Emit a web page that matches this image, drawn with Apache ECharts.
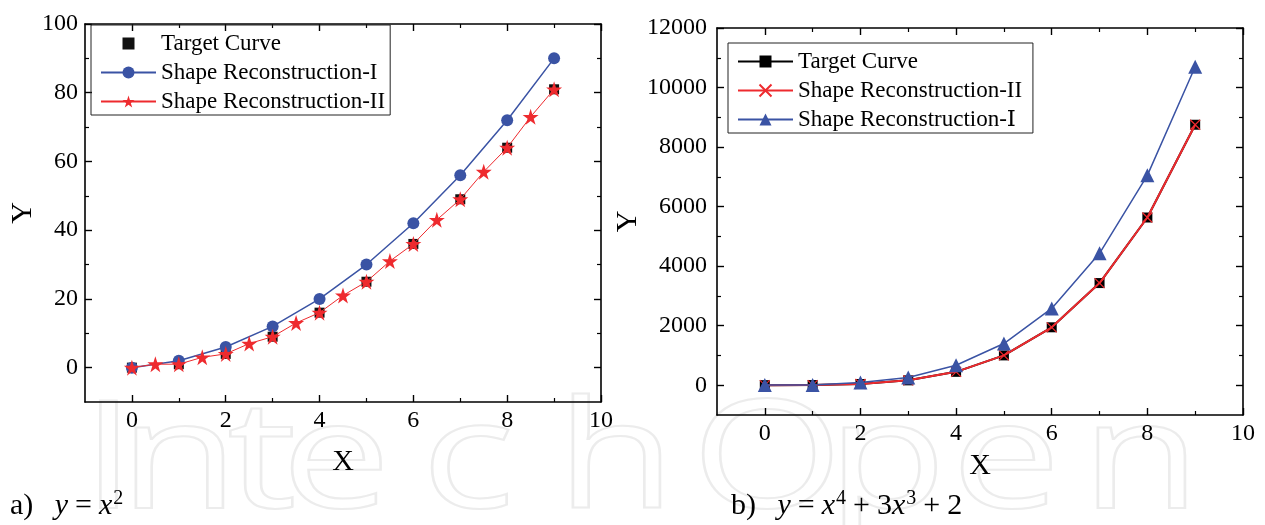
<!DOCTYPE html>
<html>
<head>
<meta charset="utf-8">
<script src="https://cdn.jsdelivr.net/npm/echarts@6/dist/echarts.min.js"></script>
<style>
  html, body { margin: 0; padding: 0; background: #fff; }
  #chart { width: 1265px; height: 525px; }
</style>
</head>
<body>
<div id="chart"></div>
<script>
// ---- panel a) y = x^2 ----
const xA = [0, 1, 2, 3, 4, 5, 6, 7, 8, 9];
const targetA = [0, 1, 4, 9, 16, 25, 36, 49, 64, 81];
const recIA = [0, 2, 6, 12, 20, 30, 42, 56, 72, 90];
const xIIA = [0, 0.5, 1, 1.5, 2, 2.5, 3, 3.5, 4, 4.5, 5, 5.5, 6, 6.5, 7, 7.5, 8, 8.5, 9];
const recIIA = [0, 1, 1, 3, 4, 7, 9, 13, 16, 21, 25, 31, 36, 43, 49, 57, 64, 73, 81];

// ---- panel b) y = x^4 + 3x^3 + 2 ----
const xB = [0, 1, 2, 3, 4, 5, 6, 7, 8, 9];
const targetB = [2, 6, 42, 164, 450, 1002, 1946, 3432, 5634, 8750];
const recIIB = [2, 6, 42, 164, 450, 1002, 1946, 3432, 5634, 8750];
const recIB = [5, 10, 90, 260, 670, 1400, 2580, 4430, 7050, 10700];

// ---- tick labels ----
const xTicks = [0, 2, 4, 6, 8, 10];
const xMinor = [1, 3, 5, 7, 9];
const yTicksA = [0, 20, 40, 60, 80, 100];
const yMinorA = [10, 30, 50, 70, 90];
const yTicksB = [0, 2000, 4000, 6000, 8000, 10000, 12000];
const yMinorB = [1000, 3000, 5000, 7000, 9000, 11000];

const SERIF = '"Liberation Serif", "DejaVu Serif", serif';
const BLUE = '#3a53a4';
const RED = '#ee2a2e';
const STAR = 'path://M50,0 L61.2,34.5 L97.6,34.5 L68.2,55.9 L79.4,90.5 L50,69.1 L20.6,90.5 L31.8,55.9 L2.4,34.5 L38.8,34.5 Z';
const CROSS = 'path://M0,0 L10,10 M10,0 L0,10';

const pairs = (xs, ys) => xs.map((x, i) => [x, ys[i]]);

// Framed axis set: labelled bottom/left axes, mirrored top/right axes, and
// separate tick-only axes for the minor ticks.
function frameAxes(grid, yMin, yMax, yTicks, yMinor, yLabelMargin, yNameGap, xNameGap) {
  const line = { show: true, onZero: false, lineStyle: { color: '#000', width: 1.6 } };
  const noLine = { show: false, onZero: false };
  const lbl = { fontFamily: SERIF, fontSize: 24, color: '#000', formatter: (v) => String(v) };
  const base = (pos, min, max) => ({ gridIndex: grid, type: 'value', min, max, position: pos, splitLine: { show: false } });
  const major = (vals) => ({ show: true, inside: true, length: 7, customValues: vals, lineStyle: { color: '#000', width: 1.4 } });
  const minor = (vals) => ({ show: true, inside: true, length: 4, customValues: vals, lineStyle: { color: '#000', width: 1.2 } });
  const xs = [
    Object.assign(base('bottom', -1, 10), {
      axisLine: line, axisTick: major(xTicks),
      axisLabel: Object.assign({ customValues: xTicks, margin: 7 }, lbl),
      name: 'X', nameLocation: 'middle', nameGap: xNameGap,
      nameTextStyle: { fontFamily: SERIF, fontSize: 30, color: '#000' }
    }),
    Object.assign(base('top', -1, 10), { axisLine: line, axisTick: major(xTicks), axisLabel: { show: false } }),
    Object.assign(base('bottom', -1, 10), { axisLine: noLine, axisTick: minor(xMinor), axisLabel: { show: false } }),
    Object.assign(base('top', -1, 10), { axisLine: noLine, axisTick: minor(xMinor), axisLabel: { show: false } })
  ];
  const ys = [
    Object.assign(base('left', yMin, yMax), {
      axisLine: line, axisTick: major(yTicks),
      axisLabel: Object.assign({ customValues: yTicks, margin: yLabelMargin }, lbl),
      name: 'Y', nameLocation: 'middle', nameGap: yNameGap, nameRotate: 90,
      nameTextStyle: { fontFamily: SERIF, fontSize: 30, color: '#000' }
    }),
    Object.assign(base('right', yMin, yMax), { axisLine: line, axisTick: major(yTicks), axisLabel: { show: false } }),
    Object.assign(base('left', yMin, yMax), { axisLine: noLine, axisTick: minor(yMinor), axisLabel: { show: false } }),
    Object.assign(base('right', yMin, yMax), { axisLine: noLine, axisTick: minor(yMinor), axisLabel: { show: false } })
  ];
  return { xs, ys };
}

const axA = frameAxes(0, -10, 100, yTicksA, yMinorA, 7, 46, 45);
const axB = frameAxes(1, -1000, 12000, yTicksB, yMinorB, 10, 58, 35);

const legendText = { fontFamily: SERIF, fontSize: 23, color: '#000' };

// Watermark letters along the bottom edge
const wmLetters = [
  ['I', 80], ['n', 118], ['t', 226], ['e', 280], ['c', 420], ['h', 555],
  ['O', 690], ['p', 826], ['e', 950], ['n', 1080]
];
const wmGraphics = wmLetters.map(([ch, x]) => ({
  type: 'text', left: x, top: 389, z: -10, silent: true,
  style: { text: ch, font: '150px "Open Sans", sans-serif', fill: 'none', stroke: '#ececec', lineWidth: 2 },
  scaleX: 1.3
}));

const capRich = {
  n: { font: '30px ' + SERIF, fill: '#000' },
  i: { font: 'italic 30px ' + SERIF, fill: '#000' },
  g: { font: '30px ' + SERIF, fill: '#000', padding: [0, 7, 0, 7] },
  s: { font: '20px ' + SERIF, fill: '#000', verticalAlign: 'top', padding: [0, 0, 15, 1] }
};

const option = {
  backgroundColor: '#fff',
  animation: false,
  grid: [
    { left: 85, top: 24, width: 516, height: 378 },
    { left: 717, top: 28, width: 526, height: 387 }
  ],
  xAxis: axA.xs.concat(axB.xs),
  yAxis: axA.ys.concat(axB.ys),
  legend: [
    {
      orient: 'vertical', left: 91, top: 25, itemWidth: 55, itemHeight: 15, itemGap: 6,
      padding: [7, 5, 2, 9], borderColor: '#222', borderWidth: 1,
      textStyle: legendText,
      data: ['Target Curve', 'Shape Reconstruction-I', 'Shape Reconstruction-II']
    },
    {
      orient: 'vertical', left: 728, top: 43, itemWidth: 55, itemHeight: 15, itemGap: 6,
      padding: [7, 5, 2, 9], borderColor: '#222', borderWidth: 1,
      textStyle: legendText,
      data: ['Target Curve ', 'Shape Reconstruction-II ', 'Shape Reconstruction-Ⅰ']
    }
  ],
  series: [
    {
      name: 'Target Curve', type: 'line', xAxisIndex: 0, yAxisIndex: 0,
      data: pairs(xA, targetA), symbol: 'rect', symbolSize: 10,
      itemStyle: { color: '#111' }, lineStyle: { width: 0, opacity: 0 }, z: 2
    },
    {
      name: 'Shape Reconstruction-I', type: 'line', xAxisIndex: 0, yAxisIndex: 0,
      data: pairs(xA, recIA), symbol: 'circle', symbolSize: 12,
      itemStyle: { color: BLUE }, lineStyle: { color: BLUE, width: 1.5 }, z: 3
    },
    {
      name: 'Shape Reconstruction-II', type: 'line', xAxisIndex: 0, yAxisIndex: 0,
      data: pairs(xIIA, recIIA), symbol: STAR, symbolSize: 16,
      itemStyle: { color: RED }, lineStyle: { color: RED, width: 1 }, z: 4
    },
    {
      name: 'Target Curve ', type: 'line', xAxisIndex: 4, yAxisIndex: 4,
      data: pairs(xB, targetB), symbol: 'rect', symbolSize: 10,
      itemStyle: { color: '#000' }, lineStyle: { color: '#000', width: 2 }, z: 2
    },
    {
      name: 'Shape Reconstruction-II ', type: 'line', xAxisIndex: 4, yAxisIndex: 4,
      data: pairs(xB, recIIB), symbol: CROSS, symbolSize: 10,
      itemStyle: { color: 'none', borderColor: RED, borderWidth: 1.2 },
      lineStyle: { color: RED, width: 2 }, z: 3
    },
    {
      name: 'Shape Reconstruction-Ⅰ', type: 'line', xAxisIndex: 4, yAxisIndex: 4,
      data: pairs(xB, recIB), symbol: 'triangle', symbolSize: 14,
      itemStyle: { color: BLUE }, lineStyle: { color: BLUE, width: 1.5 }, z: 4
    }
  ],
  graphic: wmGraphics.concat([
    {
      type: 'text', left: 10, top: 489, z: 10,
      style: { text: '{n|a)}{g| }{i|y}{g|=}{i|x}{s|2}', rich: capRich }
    },
    {
      type: 'text', left: 731, top: 489, z: 10,
      style: { text: '{n|b)}{g| }{i|y}{g|=}{i|x}{s|4}{g|+}{n|3}{i|x}{s|3}{g|+}{n|2}', rich: capRich }
    }
  ])
};

echarts.init(document.getElementById('chart')).setOption(option);
</script>
</body>
</html>
